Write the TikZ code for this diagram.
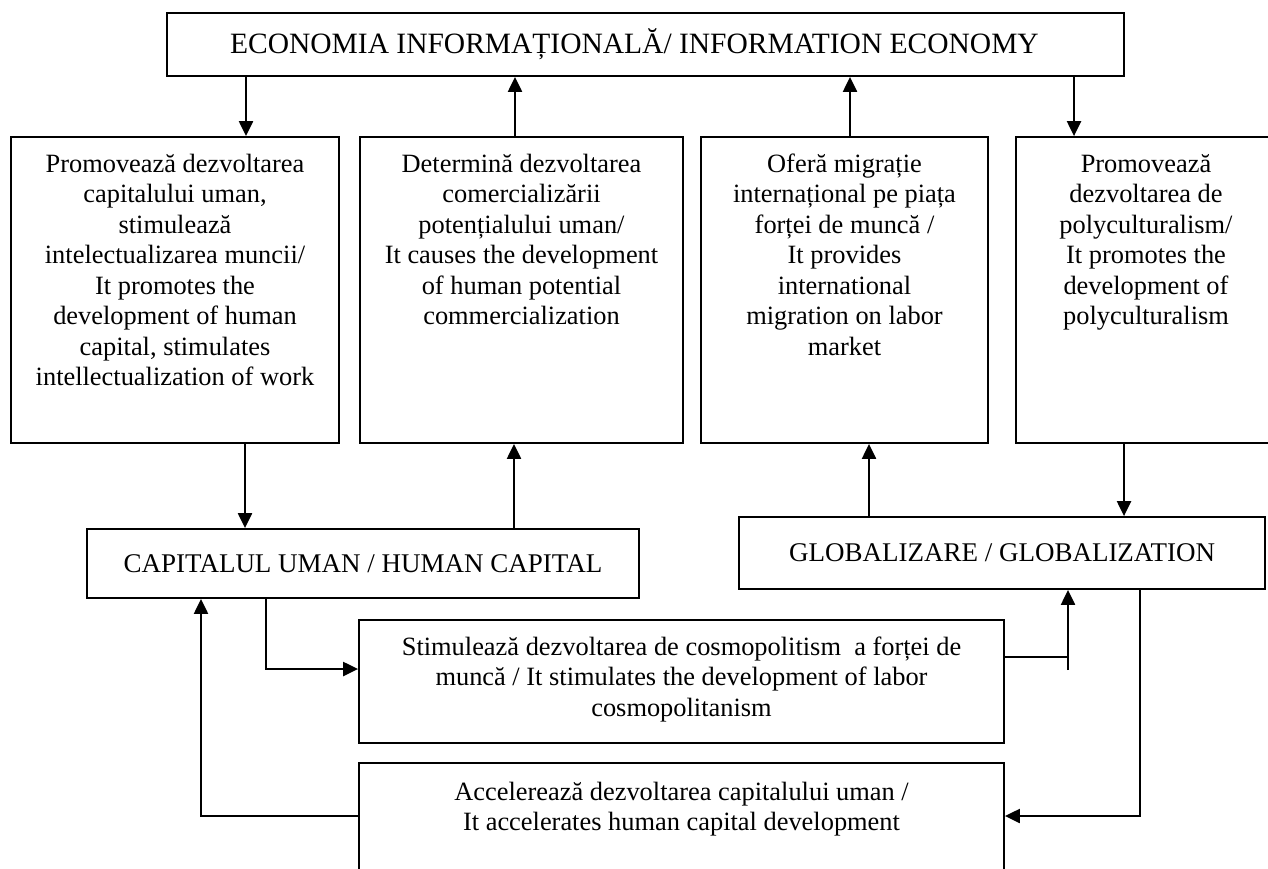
\documentclass[tikz,border=0pt]{standalone}
\usepackage{fontspec}
\setmainfont{Liberation Serif}
\usetikzlibrary{arrows.meta}
\tikzset{
  box/.style={draw, line width=1.8pt, rectangle, inner sep=0pt},
  conn/.style={line width=2.2pt},
  arr/.style={conn, -{Triangle[length=15pt,width=14pt]}},
  bodyfont/.style={font=\fontsize{26.4}{30.5}\selectfont},
  labelfont/.style={font=\fontsize{27}{31}\selectfont},
  headfont/.style={font=\fontsize{29.5}{33}\selectfont}
}
\newcommand{\topalign}[3]{\parbox[t][#2][t]{#1}{\centering\rule{0pt}{25pt}#3}}
\begin{document}
\begin{tikzpicture}[x=1pt,y=-1pt]
\useasboundingbox (0,0) rectangle (1268,868);
\clip (0,0) rectangle (1268,868);
\fill[white] (0,0) rectangle (1268,868);

\node[box, headfont, minimum width=957pt, minimum height=63pt] (top) at (645.5,44.5)
  {\hspace*{-22pt}ECONOMIA INFORMAȚIONALĂ/ INFORMATION ECONOMY};

\node[box, bodyfont, minimum width=328pt, minimum height=306pt] (b1) at (175,290)
  {\topalign{318pt}{286pt}{Promovează dezvoltarea\\ capitalului uman,\\ stimulează\\ intelectualizarea muncii/\\ It promotes the\\ development of human\\ capital, stimulates\\ intellectualization of work}};
\node[box, bodyfont, minimum width=323pt, minimum height=306pt] (b2) at (521.5,290)
  {\topalign{313pt}{286pt}{Determină dezvoltarea\\ comercializării\\ potențialului uman/\\ It causes the development\\ of human potential\\ commercialization}};
\node[box, bodyfont, minimum width=287pt, minimum height=306pt] (b3) at (844.5,290)
  {\topalign{277pt}{286pt}{Oferă migrație\\ internațional pe piața\\ forței de muncă /\\ It provides\\ international\\ migration on labor\\ market}};
\node[box, bodyfont, minimum width=260pt, minimum height=306pt] (b4) at (1146,290)
  {\topalign{250pt}{286pt}{Promovează\\ dezvoltarea de\\ polyculturalism/\\ It promotes the\\ development of\\ polyculturalism}};

\node[box, labelfont, minimum width=552.5pt, minimum height=69pt] (hc) at (363,563.5)
  {CAPITALUL UMAN / HUMAN CAPITAL};
\node[box, labelfont, minimum width=526pt, minimum height=72pt] (glob) at (1002,553)
  {GLOBALIZARE / GLOBALIZATION};

\node[box, bodyfont, minimum width=645pt, minimum height=123pt] (stim) at (681.5,681.5)
  {\topalign{635pt}{103pt}{Stimulează dezvoltarea de cosmopolitism~ a forței de\\ muncă / It stimulates the development of labor\\ cosmopolitanism}};
\node[box, bodyfont, minimum width=645pt, minimum height=117pt] (bot) at (681.5,821.5)
  {\topalign{635pt}{93pt}{Accelerează dezvoltarea capitalului uman /\\ It accelerates human capital development}};

% x positions of vertical connectors
\coordinate (xa) at (246,0);
\coordinate (xb) at (515,0);
\coordinate (xc) at (850,0);
\coordinate (xd) at (1074,0);
\coordinate (xe) at (245,0);
\coordinate (xf) at (514,0);
\coordinate (xg) at (869,0);
\coordinate (xh) at (1124,0);
\coordinate (xi) at (266,0);
\coordinate (xj) at (1140,0);
\coordinate (xk) at (201,0);

\draw[arr] (top.south -| xa) -- (b1.north -| xa);
\draw[arr] (b2.north -| xb) -- (top.south -| xb);
\draw[arr] (b3.north -| xc) -- (top.south -| xc);
\draw[arr] (top.south -| xd) -- (b4.north -| xd);

\draw[arr] (b1.south -| xe) -- (hc.north -| xe);
\draw[arr] (hc.north -| xf) -- (b2.south -| xf);
\draw[arr] (glob.north -| xg) -- (b3.south -| xg);
\draw[arr] (b4.south -| xh) -- (glob.north -| xh);

\coordinate (sIn) at ([yshift=12.5pt]stim.west);
\draw[arr] (hc.south -| xi) |- (sIn);

\coordinate (sOut) at ([yshift=24.5pt]stim.east);
\coordinate (gTail) at (1068,670);
\draw[conn] (sOut) -- (sOut -| gTail);
\draw[arr] (gTail) -- (gTail |- glob.south);

\coordinate (bIn) at ([yshift=5.5pt]bot.east);
\draw[arr] (glob.south -| xj) |- (bIn);

\coordinate (bOut) at ([yshift=5.5pt]bot.west);
\draw[arr] (bOut) -| (xk |- hc.south);
\end{tikzpicture}
\end{document}
